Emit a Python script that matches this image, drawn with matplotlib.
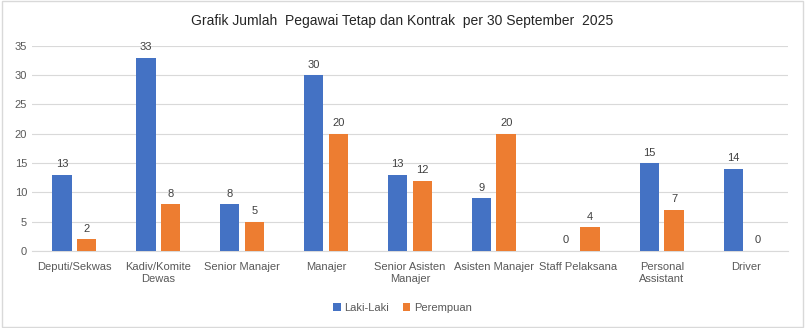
import matplotlib.pyplot as plt
import numpy as np

categories = ['Deputi/Sekwas', 'Kadiv/Komite\nDewas', 'Senior Manajer', 'Manajer',
              'Senior Asisten\nManajer', 'Asisten Manajer', 'Staff Pelaksana',
              'Personal\nAssistant', 'Driver']
laki = [13, 33, 8, 30, 13, 9, 0, 15, 14]
perempuan = [2, 8, 5, 20, 12, 20, 4, 7, 0]

plt.rcParams['font.family'] = ['Liberation Sans', 'DejaVu Sans']

fig = plt.figure(figsize=(8.05, 3.28), dpi=100)
ax = fig.add_axes([0.0398, 0.235, 0.939, 0.625])

x = np.arange(len(categories))
w = 0.23
b1 = ax.bar(x - 0.145, laki, w, color='#4472C4', label='Laki-Laki', zorder=3)
b2 = ax.bar(x + 0.145, perempuan, w, color='#ED7D31', label='Perempuan', zorder=3)

for bars in (b1, b2):
    for r in bars:
        ax.annotate(f'{int(r.get_height())}', (r.get_x() + r.get_width() / 2, r.get_height()),
                    xytext=(0, 4), textcoords='offset points', ha='center', va='bottom',
                    fontsize=8, color='#404040')

ax.set_xlim(-0.5, len(categories) - 0.5)
ax.set_ylim(0, 35)
ax.set_yticks(range(0, 36, 5))
ax.set_xticks(x)
ax.set_xticklabels(categories)
ax.tick_params(axis='both', length=0, labelsize=8, labelcolor='#595959')
ax.tick_params(axis='x', pad=8)
ax.grid(axis='y', color='#d9d9d9', linewidth=0.8, zorder=0)
for s in ['top', 'right', 'left']:
    ax.spines[s].set_visible(False)
ax.spines['bottom'].set_color('#d9d9d9')

fig.text(0.5, 0.935, 'Grafik Jumlah  Pegawai Tetap dan Kontrak  per 30 September  2025',
         ha='center', va='center', fontsize=10, color='#262626')

fig.legend(loc='center', bbox_to_anchor=(0.5, 0.062), ncol=2, frameon=False,
           fontsize=8, handlelength=0.7, handleheight=0.7, columnspacing=1.2,
           handletextpad=0.3, labelcolor='#595959')

fig.patches.append(plt.Rectangle((0.002, 0.003), 0.996, 0.994, transform=fig.transFigure,
                                 fill=False, edgecolor='#d9d9d9', linewidth=1))

fig.savefig('out.png', dpi=100)
